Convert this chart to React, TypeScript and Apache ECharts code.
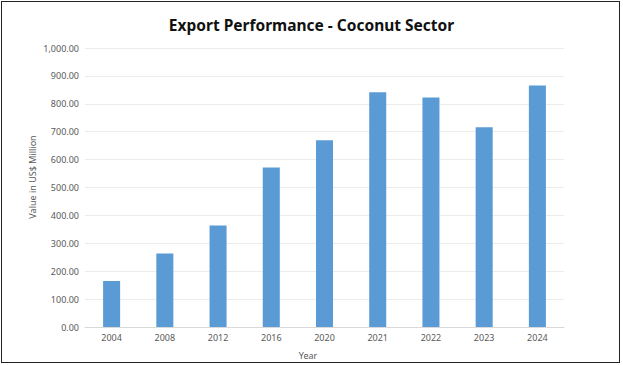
import React, { useEffect, useRef } from "react";
import * as echarts from "echarts";

const years = ["2004", "2008", "2012", "2016", "2020", "2021", "2022", "2023", "2024"];
const exportValues = [165, 263, 364, 572, 669, 841, 823, 716, 866];
const titleText = "Export Performance - Coconut Sector";
const yAxisTitle = "Value in US$ Million";
const xAxisTitle = "Year";

export default function App() {
  const ref = useRef<HTMLDivElement>(null);
  useEffect(() => {
    document.body.style.margin = "0";
    const chart = echarts.init(ref.current!, undefined, { renderer: "svg" });
    chart.setOption({
      animation: false,
      backgroundColor: "#ffffff",
      title: {
        text: titleText,
        left: "center",
        top: 12,
        textStyle: { fontFamily: "Noto Sans", fontWeight: "bold", fontSize: 15.5, color: "#111" },
      },
      grid: { left: 85, right: 59, top: 48, bottom: 38, containLabel: false },
      xAxis: {
        type: "category",
        data: years,
        axisLine: { lineStyle: { color: "#d9d9d9" } },
        axisTick: { show: false },
        axisLabel: { color: "#595959", fontSize: 9, fontFamily: "Noto Sans", margin: 6 },
      },
      yAxis: {
        type: "value",
        min: 0,
        max: 1000,
        interval: 100,
        axisLine: { show: false },
        axisTick: { show: false },
        splitLine: { lineStyle: { color: "#ececec" } },
        axisLabel: {
          color: "#595959",
          fontSize: 9,
          fontFamily: "Noto Sans",
          margin: 6,
          formatter: (v: number) =>
            v.toLocaleString("en-US", { minimumFractionDigits: 2, maximumFractionDigits: 2 }),
        },
      },
      series: [
        {
          type: "bar",
          data: exportValues,
          barWidth: "32%",
          itemStyle: { color: "#5b9bd5" },
        },
      ],
      graphic: [
        {
          type: "text",
          x: 32,
          y: 177,
          rotation: Math.PI / 2,
          style: {
            text: yAxisTitle,
            fill: "#595959",
            fontSize: 9,
            fontFamily: "Noto Sans",
            align: "center",
            verticalAlign: "middle",
          },
        },
        {
          type: "text",
          x: 308,
          y: 355,
          style: {
            text: xAxisTitle,
            fill: "#595959",
            fontSize: 9,
            fontFamily: "Noto Sans",
            align: "center",
            verticalAlign: "middle",
          },
        },
      ],
    });
    return () => chart.dispose();
  }, []);
  return (
    <div style={{ position: "fixed", left: 0, top: 0, width: 623, height: 365, background: "#fff" }}>
      <div ref={ref} style={{ position: "absolute", left: 0, top: 0, width: 623, height: 365 }} />
      <div
        style={{
          position: "absolute",
          left: 1,
          top: 1,
          width: 619,
          height: 362,
          border: "1.5px solid #222",
          boxSizing: "border-box",
          pointerEvents: "none",
        }}
      />
    </div>
  );
}
